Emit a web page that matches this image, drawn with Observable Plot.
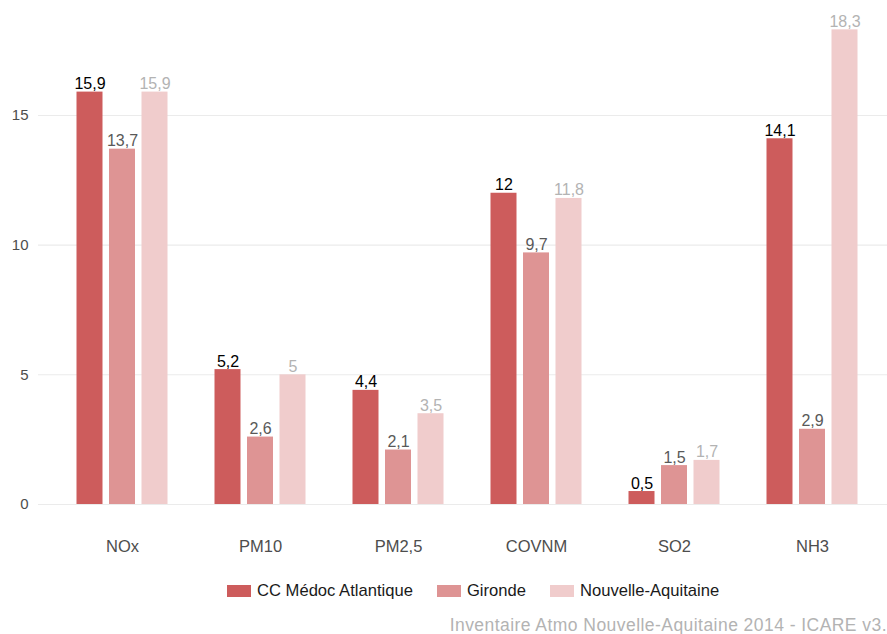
<!DOCTYPE html>
<html>
<head>
<meta charset="utf-8">
<script src="https://cdn.jsdelivr.net/npm/d3@7"></script>
<script src="https://cdn.jsdelivr.net/npm/@observablehq/plot@0.6"></script>
<style>
  html, body { margin: 0; padding: 0; background: #ffffff; }
  body { font-family: "Liberation Sans", Arial, sans-serif; }
  #wrap { position: relative; width: 887px; height: 634px; overflow: hidden; }
  #legend { position: absolute; left: 227px; top: 581px; display: flex; align-items: center; font-size: 16.6px; color: #1a1a1a; white-space: nowrap; }
  .item { display: flex; align-items: center; margin-right: 24px; }
  .key { width: 24px; height: 12px; margin-right: 6px; }
  #caption { position: absolute; right: 0; top: 615px; font-size: 17.5px; letter-spacing: 0.45px; color: #b3b3b3; white-space: nowrap; }
</style>
</head>
<body>
<div id="wrap">
  <div id="chart"></div>
  <div id="legend"></div>
  <div id="caption">Inventaire Atmo Nouvelle-Aquitaine 2014 - ICARE v3.</div>
</div>
<script>
// Emissions by pollutant, per territory
const pollutants = ["NOx", "PM10", "PM2,5", "COVNM", "SO2", "NH3"];
const territories = ["CC Médoc Atlantique", "Gironde", "Nouvelle-Aquitaine"];
const medocAtlantique = [15.9, 5.2, 4.4, 12, 0.5, 14.1];
const gironde = [13.7, 2.6, 2.1, 9.7, 1.5, 2.9];
const nouvelleAquitaine = [15.9, 5, 3.5, 11.8, 1.7, 18.3];
const yTicks = [0, 5, 10, 15];

const barColors = ["#cd5c5c", "#de9494", "#f0cccc"];
const labelColors = ["#000000", "#595959", "#b3b3b3"];
// horizontal shift of each territory's bar inside a pollutant group
const groupOffsets = [-32.5, 0, 32.5];

const series = [medocAtlantique, gironde, nouvelleAquitaine];
const frFormat = v => String(v).replace(".", ",");

const seriesMarks = series.flatMap((values, i) => {
  const rows = pollutants.map((p, j) => ({pollutant: p, territory: territories[i], value: values[j]}));
  return [
    Plot.barY(rows, {x: "pollutant", y: "value", fill: "territory", dx: groupOffsets[i]}),
    Plot.text(rows, {
      x: "pollutant", y: "value", text: d => frFormat(d.value),
      dx: groupOffsets[i], dy: -3, lineAnchor: "bottom", fontSize: 16,
      fill: labelColors[i]
    })
  ];
});

const chart = Plot.plot({
  width: 887,
  height: 570,
  marginLeft: 38,
  marginRight: 0,
  marginTop: 6,
  marginBottom: 66,
  style: {fontFamily: "'Liberation Sans', Arial, sans-serif", background: "transparent"},
  x: {domain: pollutants, paddingInner: 0.812, paddingOuter: 0.471, align: 0.536, label: null, axis: null},
  y: {domain: [0, 19.2], axis: null},
  color: {domain: territories, range: barColors},
  marks: [
    Plot.gridY(yTicks, {stroke: "#ebebeb", strokeOpacity: 1, strokeWidth: 1.1}),
    Plot.axisY(yTicks, {tickSize: 0, tickPadding: 10, fontSize: 15, color: "#4d4d4d", label: null}),
    Plot.axisX({tickSize: 0, tickPadding: 36, fontSize: 16.5, color: "#4d4d4d", label: null}),
    ...seriesMarks
  ]
});
document.getElementById("chart").appendChild(chart);

// Legend
const legend = document.getElementById("legend");
territories.forEach((t, i) => {
  const item = document.createElement("div");
  item.className = "item";
  const key = document.createElement("span");
  key.className = "key";
  key.style.background = barColors[i];
  const label = document.createElement("span");
  label.textContent = t;
  item.appendChild(key);
  item.appendChild(label);
  legend.appendChild(item);
});
</script>
</body>
</html>
